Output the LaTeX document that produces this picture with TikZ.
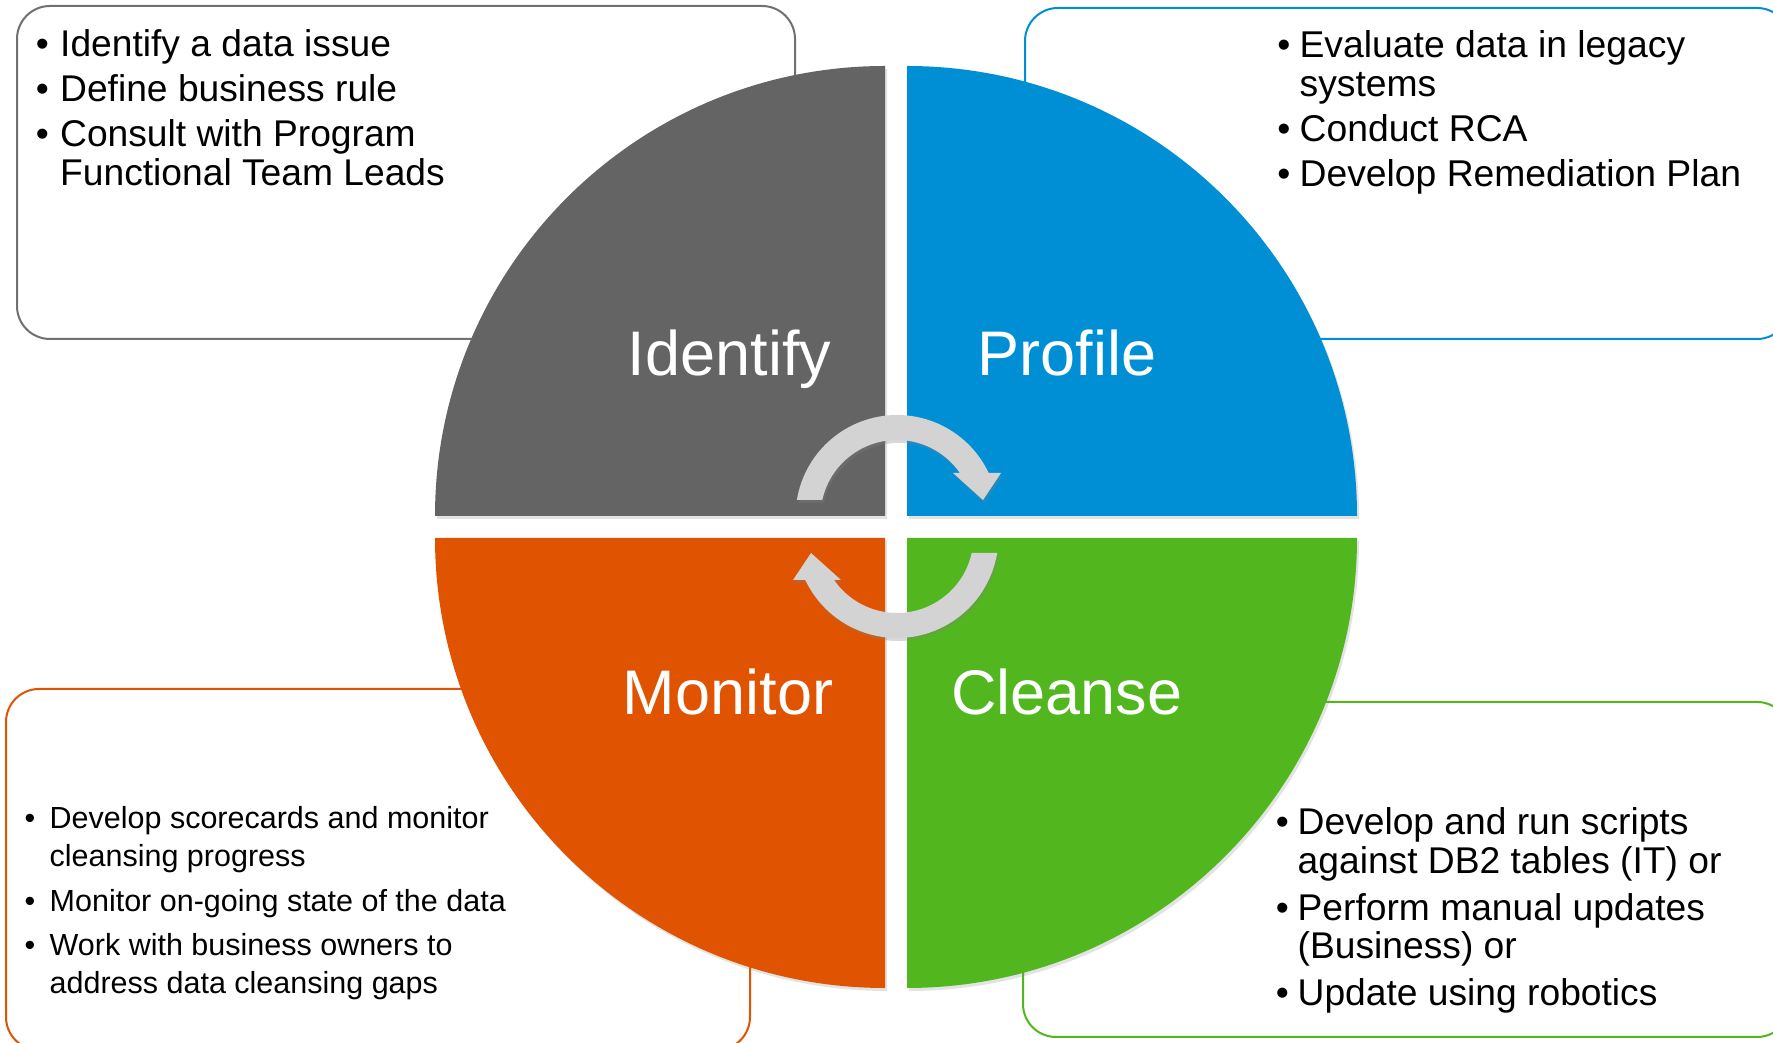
\documentclass[tikz,border=0pt]{standalone}
\usepackage{fontspec}
\setmainfont{Liberation Sans}
\usetikzlibrary{shadows}
\definecolor{sgray}{RGB}{100,100,100}
\definecolor{bgray}{RGB}{112,112,112}
\definecolor{sblue}{RGB}{0,143,213}
\definecolor{sorange}{RGB}{224,83,0}
\definecolor{sgreen}{RGB}{82,183,30}
\definecolor{arrgray}{RGB}{211,211,211}
\begin{document}
\begin{tikzpicture}[x=1pt,y=1pt,
  box/.style={line width=2pt, rounded corners=33pt, fill=white},
  sector/.style={drop shadow={shadow xshift=2pt,shadow yshift=-3pt,opacity=0.22}},
  cyc/.style={fill=arrgray, drop shadow={shadow xshift=1.5pt,shadow yshift=-3pt,opacity=0.3}},
  lbl/.style={anchor=base, inner sep=0pt, text=white, font=\fontsize{63}{70}\selectfont},
  txt/.style={anchor=base west, inner sep=0pt, text=black}]
\fill[white] (0,0) rectangle (1773,1043);
\useasboundingbox (0,0) rectangle (1773,1043);
\clip (0,0) rectangle (1773,1043);
% boxes
\draw[box, draw=bgray] (17,704) rectangle (795,1037);
\draw[box, draw=sblue] (1025,704) rectangle (1790,1035);
\draw[box, draw=sorange] (6,-7) rectangle (750,354);
\draw[box, draw=sgreen] (1023,6) rectangle (1790,341);
% sectors
\fill[sgray, sector] (885,527) -- (885,977) arc[start angle=90,end angle=180,radius=450] -- cycle;
\fill[sblue, sector] (907,527) -- (1357,527) arc[start angle=0,end angle=90,radius=450] -- cycle;
\fill[sorange, sector] (885,505) -- (435,505) arc[start angle=180,end angle=270,radius=450] -- cycle;
\fill[sgreen, sector] (907,505) -- (907,55) arc[start angle=270,end angle=360,radius=450] -- cycle;
% cycle arrows
\begin{scope}[shift={(897,516.5)}]
\fill[cyc] (62.93,53.5) -- (56,53.5) -- (86,26.5) -- (104,53.5) -- (91.70,53.5)
  arc[start angle=25.38,end angle=170.64,radius=101.5] -- (-74.70,26.5)
  arc[start angle=167.54,end angle=34.65,radius=76.5] -- cycle;
\fill[cyc] (-62.93,-53.5) -- (-56,-53.5) -- (-86,-26.5) -- (-104,-53.5) -- (-91.70,-53.5)
  arc[start angle=205.38,end angle=350.64,radius=101.5] -- (74.70,-26.5)
  arc[start angle=347.54,end angle=214.65,radius=76.5] -- cycle;
\end{scope}
% labels
\node[lbl] (identify) at (729.5,667) {Identify};
\node[lbl] (profile) at (1067,667) {Profile};
\node[lbl] (monitor) at (728,328) {Monitor};
\node[lbl] (cleanse) at (1067,328) {Cleanse};
% box texts
\node[txt] (tltext) at (35.6,986) {\fontsize{37.2}{38.5}\selectfont
  \begin{tabular}[t]{@{}l@{}l@{}}
  \makebox[24.4pt][l]{•} & Identify a data issue\\[6.5pt]
  \makebox[24.4pt][l]{•} & Define business rule\\[6.5pt]
  \makebox[24.4pt][l]{•} & Consult with Program\\
   & Functional Team Leads
  \end{tabular}};
\node[txt] (trtext) at (1277.2,985) {\fontsize{37.3}{38.5}\selectfont
  \begin{tabular}[t]{@{}l@{}l@{}}
  \makebox[22.2pt][l]{•} & Evaluate data in legacy\\
   & systems\\[6.5pt]
  \makebox[22.2pt][l]{•} & Conduct RCA\\[6.5pt]
  \makebox[22.2pt][l]{•} & Develop Remediation Plan
  \end{tabular}};
\node[txt] (bltext) at (24.5,214) {\fontsize{30.5}{38}\selectfont
  \begin{tabular}[t]{@{}l@{}l@{}}
  \makebox[25pt][l]{•} & Develop scorecards and monitor\\
   & cleansing progress\\[6.5pt]
  \makebox[25pt][l]{•} & Monitor on-going state of the data\\[6.5pt]
  \makebox[25pt][l]{•} & Work with business owners to\\
   & address data cleansing gaps
  \end{tabular}};
\node[txt] (brtext) at (1275.7,208) {\fontsize{37.2}{37.5}\selectfont
  \begin{tabular}[t]{@{}l@{}l@{}}
  \makebox[21.8pt][l]{•} & Develop and run scripts\\
   & against DB2 tables (IT) or\\[9pt]
  \makebox[21.8pt][l]{•} & Perform manual updates\\
   & (Business) or\\[9pt]
  \makebox[21.8pt][l]{•} & Update using robotics
  \end{tabular}};
\end{tikzpicture}
\end{document}
